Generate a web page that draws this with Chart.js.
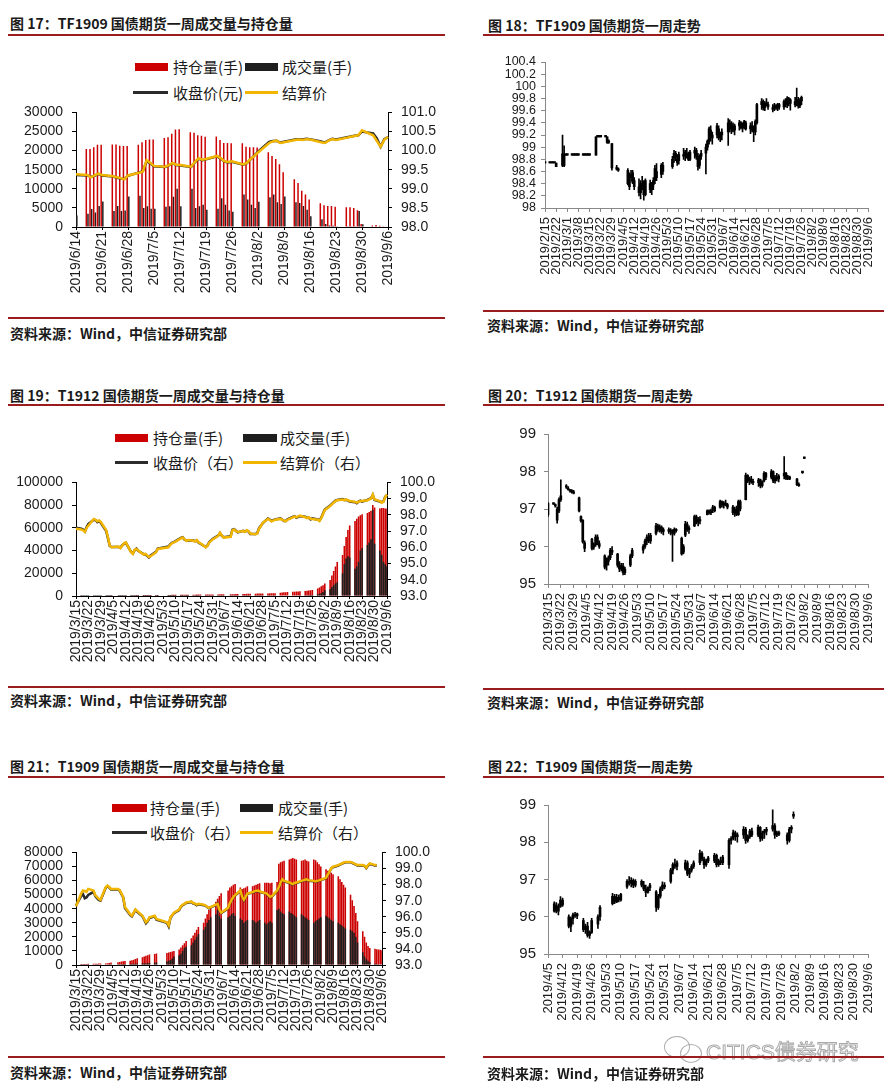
<!DOCTYPE html>
<html>
<head>
<meta charset="utf-8">
<script src="https://cdn.jsdelivr.net/npm/chart.js@4.4.0/dist/chart.umd.min.js"></script>
<style>
body{margin:0;background:#fff;width:889px;height:1088px;position:relative;overflow:hidden;font-family:"Noto Sans CJK SC","Liberation Sans",sans-serif;color:#1a1a1a;}
.t{position:absolute;white-space:nowrap;line-height:20px;height:20px;}
.title{font-size:14px;font-weight:bold;}
.src{font-size:14px;font-weight:bold;}
.lg{font-size:15px;}
.rule{position:absolute;height:2px;background:#9b1b1f;}
.sw{position:absolute;}
canvas{position:absolute;}
.wm{position:absolute;left:706px;top:1035px;font-size:21px;font-family:"Liberation Sans","Noto Sans CJK SC",sans-serif;color:rgba(255,255,255,0.6);-webkit-text-stroke:1px rgba(140,140,140,0.75);white-space:nowrap;}
.bub{position:absolute;border:1.5px solid rgba(140,140,140,0.7);border-radius:50%;}
</style>
</head>
<body>

<!-- row 1 -->
<div class="t title" style="left:10px;top:13px">图 17：TF1909 国债期货一周成交量与持仓量</div>
<div class="t title" style="left:488px;top:15px">图 18：TF1909 国债期货一周走势</div>
<div class="rule" style="left:8px;top:34px;width:437px"></div>
<div class="rule" style="left:483px;top:34px;width:401px"></div>

<div class="sw" style="left:135px;top:63px;width:33px;height:8px;background:#cc0000"></div>
<div class="t lg" style="left:173px;top:57px">持仓量(手)</div>
<div class="sw" style="left:245px;top:63px;width:33px;height:8px;background:#1e1e1e"></div>
<div class="t lg" style="left:282px;top:57px">成交量(手)</div>
<div class="sw" style="left:133px;top:91px;width:35px;height:3px;background:#2b2b2b"></div>
<div class="t lg" style="left:173px;top:83px">收盘价(元)</div>
<div class="sw" style="left:245px;top:91px;width:33px;height:3px;background:#f2b600"></div>
<div class="t lg" style="left:282px;top:83px">结算价</div>

<canvas id="c17" width="445" height="215" style="left:0;top:95px"></canvas>
<canvas id="c18" width="444" height="255" style="left:445px;top:45px"></canvas>

<div class="rule" style="left:8px;top:317px;width:437px"></div>
<div class="rule" style="left:483px;top:310px;width:401px"></div>
<div class="t src" style="left:10px;top:323px">资料来源：Wind，中信证券研究部</div>
<div class="t src" style="left:487px;top:315px">资料来源：Wind，中信证券研究部</div>

<!-- row 2 -->
<div class="t title" style="left:10px;top:385px">图 19：T1912 国债期货一周成交量与持仓量</div>
<div class="t title" style="left:488px;top:385px">图 20：T1912 国债期货一周走势</div>
<div class="rule" style="left:8px;top:404px;width:437px"></div>
<div class="rule" style="left:483px;top:404px;width:401px"></div>

<div class="sw" style="left:115px;top:434px;width:33px;height:8px;background:#cc0000"></div>
<div class="t lg" style="left:153px;top:428px">持仓量(手)</div>
<div class="sw" style="left:243px;top:434px;width:34px;height:8px;background:#1e1e1e"></div>
<div class="t lg" style="left:280px;top:428px">成交量(手)</div>
<div class="sw" style="left:115px;top:461px;width:33px;height:3px;background:#2b2b2b"></div>
<div class="t lg" style="left:153px;top:453px">收盘价（右）</div>
<div class="sw" style="left:243px;top:461px;width:34px;height:3px;background:#f2b600"></div>
<div class="t lg" style="left:280px;top:453px">结算价（右）</div>

<canvas id="c19" width="445" height="215" style="left:0;top:465px"></canvas>
<canvas id="c20" width="444" height="265" style="left:445px;top:415px"></canvas>

<div class="rule" style="left:8px;top:686px;width:437px"></div>
<div class="rule" style="left:483px;top:688px;width:401px"></div>
<div class="t src" style="left:10px;top:690px">资料来源：Wind，中信证券研究部</div>
<div class="t src" style="left:487px;top:692px">资料来源：Wind，中信证券研究部</div>

<!-- row 3 -->
<div class="t title" style="left:10px;top:756px">图 21：T1909 国债期货一周成交量与持仓量</div>
<div class="t title" style="left:488px;top:756px">图 22：T1909 国债期货一周走势</div>
<div class="rule" style="left:8px;top:776px;width:437px"></div>
<div class="rule" style="left:483px;top:776px;width:401px"></div>

<div class="sw" style="left:112px;top:804px;width:35px;height:8px;background:#cc0000"></div>
<div class="t lg" style="left:150px;top:798px">持仓量(手)</div>
<div class="sw" style="left:240px;top:804px;width:33px;height:8px;background:#1e1e1e"></div>
<div class="t lg" style="left:278px;top:798px">成交量(手)</div>
<div class="sw" style="left:112px;top:831px;width:35px;height:3px;background:#2b2b2b"></div>
<div class="t lg" style="left:150px;top:823px">收盘价（右）</div>
<div class="sw" style="left:240px;top:831px;width:33px;height:3px;background:#f2b600"></div>
<div class="t lg" style="left:278px;top:823px">结算价（右）</div>

<canvas id="c21" width="445" height="215" style="left:0;top:835px"></canvas>
<canvas id="c22" width="444" height="265" style="left:445px;top:785px"></canvas>

<div class="bub" style="left:664px;top:1036px;width:24px;height:20px"></div>
<div class="bub" style="left:680px;top:1044px;width:20px;height:17px"></div>
<div class="wm">CITICS债券研究</div>

<div class="rule" style="left:8px;top:1056px;width:437px"></div>
<div class="rule" style="left:483px;top:1056px;width:401px"></div>
<div class="t src" style="left:10px;top:1062px">资料来源：Wind，中信证券研究部</div>
<div class="t src" style="left:487px;top:1063px">资料来源：Wind，中信证券研究部</div>

<script>
// ---------- data (one row = one week, Mon..Fri; null = no trading) ----------

// 图17 TF1909 成交量/持仓量, weeks from Monday 2019/6/10
const tf1909Monday17 = '2019/6/10';
const tf1909OI = [
  [null,null,null,null,20000],
  [20400,20400,20900,21500,21500],
  [21600,21600,21300,21200,21200],
  [21500,22200,22800,22900,22900],
  [23300,23500,24400,25500,25600],
  [24800,24700,24000,23900,23600],
  [23700,22800,22000,22000,21900],
  [21900,21000,20900,20900,20800],
  [19600,18600,17800,16400,14300],
  [12500,11500,9500,8500,7200],
  [6200,5700,5500,5500,5300],
  [5200,5200,5000,4400,800],
  [400,500,300,200,100]
];
const tf1909Vol = [
  [null,null,null,null,3000],
  [3500,4700,3800,5500,6700],
  [4200,5500,4200,4300,8000],
  [8200,5000,5400,4800,4800],
  [5300,5400,7900,10000,5400],
  [10000,5000,5400,5800,4500],
  [4800,7500,5800,4300,4000],
  [8500,7200,5800,5000,6600],
  [7800,8500,6500,6000,8000],
  [6500,6300,5500,4500,2800],
  [2000,800,400,300,200],
  [200,200,200,4200,700],
  [100,100,100,100,100]
];
const tf1909Close = [
  [null,null,null,null,99.36],
  [99.35,99.31,99.34,99.39,99.35],
  [99.32,99.29,99.27,99.26,99.34],
  [99.43,99.46,99.72,99.67,99.59],
  [99.57,99.61,99.67,99.62,99.61],
  [99.57,99.69,99.79,99.75,99.77],
  [99.85,99.79,99.71,99.69,99.71],
  [99.63,99.67,99.77,99.87,99.97],
  [100.23,100.25,100.26,100.21,100.23],
  [100.29,100.30,100.29,100.31,100.30],
  [100.24,100.21,100.27,100.31,100.29],
  [100.35,100.37,100.39,100.40,100.50],
  [100.45,100.32,100.10,100.30,100.35]
];
const tf1909Settle = [
  [null,null,null,null,99.38],
  [99.36,99.30,99.35,99.40,99.36],
  [99.33,99.30,99.28,99.25,99.35],
  [99.42,99.45,99.75,99.68,99.60],
  [99.58,99.62,99.68,99.63,99.62],
  [99.58,99.70,99.80,99.76,99.78],
  [99.86,99.80,99.72,99.70,99.72],
  [99.64,99.68,99.78,99.86,99.95],
  [100.20,100.24,100.26,100.20,100.22],
  [100.28,100.29,100.28,100.30,100.29],
  [100.22,100.20,100.26,100.30,100.28],
  [100.34,100.36,100.38,100.40,100.53],
  [100.40,100.25,100.10,100.28,100.36]
];

// 图18 TF1909 日K线 [open, high, low, close], weeks from Monday 2019/2/11
const tf1909Monday18 = '2019/2/11';
const F74 = [98.74,98.74,98.74,98.74], F87 = [98.87,98.87,98.87,98.87], F917 = [99.17,99.17,99.17,99.17];
const tf1909Candles = [
  [null,null,null,null,F74],
  [F74,F74,F74,F74,[98.74,98.74,98.68,98.68]],
  [null,[98.70,99.20,98.68,98.89],[98.70,99.02,98.68,98.88],F87,F87],
  [F87,F87,F87,F87,F87],
  [F87,F87,F87,F87,F87],
  [null,[98.87,99.17,98.87,99.17],F917,F917,F917],
  [F917,[99.17,99.17,99.06,99.08],[99.08,99.12,99.06,99.10],null,[99.06,99.06,98.62,98.66]],
  [[98.66,98.70,98.62,98.64],[98.64,98.66,98.60,98.62],null,null,null],
  [[98.62,98.65,98.38,98.40],[98.45,98.58,98.30,98.35],[98.55,98.62,98.45,98.50],[98.58,98.62,98.40,98.42],[98.45,98.50,98.30,98.35]],
  [[98.35,98.48,98.20,98.25],[98.25,98.45,98.15,98.40],[98.40,98.52,98.30,98.32],[98.30,98.45,98.13,98.22],[98.22,98.48,98.20,98.45]],
  [[98.40,98.46,98.25,98.30],[98.30,98.42,98.22,98.38],[98.38,98.50,98.30,98.45],[98.45,98.70,98.40,98.65],[98.60,98.73,98.45,98.50]],
  [[98.55,98.73,98.50,98.70],[98.70,98.75,98.55,98.60],null,null,null],
  [[98.68,98.85,98.65,98.80],[98.82,98.95,98.75,98.90],[98.90,98.93,98.78,98.82],[98.80,98.88,98.70,98.75],[98.78,98.92,98.72,98.88]],
  [[98.88,98.98,98.80,98.85],[98.85,98.95,98.78,98.92],[98.90,98.98,98.82,98.85],[98.85,98.92,98.78,98.80],[98.80,98.95,98.78,98.92]],
  [[98.90,99.00,98.82,98.95],[98.95,98.98,98.80,98.85],[98.85,98.90,98.62,98.68],[98.70,98.88,98.65,98.85],[98.85,98.95,98.80,98.90]],
  [[98.90,99.05,98.56,99.00],[99.00,99.12,98.95,99.10],[99.10,99.33,99.05,99.30],[99.28,99.35,99.10,99.15],[99.15,99.25,99.05,99.20]],
  [[99.20,99.39,99.15,99.35],[99.30,99.35,99.12,99.15],[99.15,99.25,99.09,99.20],[99.20,99.30,99.12,99.25],null],
  [[99.25,99.47,99.03,99.40],[99.40,99.45,99.25,99.30],[99.30,99.42,99.22,99.38],[99.35,99.40,99.25,99.28],[99.28,99.38,99.20,99.35]],
  [[99.35,99.44,99.28,99.40],[99.40,99.42,99.30,99.32],[99.32,99.40,99.25,99.36],[99.36,99.44,99.30,99.42],[99.40,99.43,99.28,99.30]],
  [[99.30,99.40,99.22,99.35],[99.35,99.42,99.25,99.28],[99.28,99.35,99.09,99.25],[99.25,99.45,99.20,99.42],[99.40,99.72,99.38,99.70]],
  [[99.70,99.80,99.62,99.75],[99.75,99.78,99.61,99.65],[99.65,99.75,99.60,99.72],[99.72,99.80,99.68,99.70],[99.70,99.74,99.62,99.66]],
  [[99.62,99.70,99.58,99.65],[99.65,99.72,99.60,99.68],[99.68,99.70,99.62,99.64],[99.64,99.72,99.60,99.70],[99.70,99.72,99.62,99.66]],
  [[99.66,99.78,99.62,99.75],[99.75,99.80,99.66,99.70],[99.70,99.83,99.65,99.80],[99.80,99.82,99.68,99.72],[99.72,99.80,99.61,99.78]],
  [[99.75,99.82,99.66,99.70],[99.70,99.97,99.68,99.78],[99.78,99.82,99.64,99.68],[99.68,99.80,99.65,99.76],[99.76,99.84,99.70,99.82]]
];

// 图19 T1912 成交量/持仓量, weeks from Monday 2019/3/11
const t1912Monday = '2019/3/11';
const t1912OI = [
  [null,null,null,null,300],
  [320,340,350,380,400],
  [420,450,470,500,520],
  [540,560,580,600,null],
  [620,640,660,680,700],
  [720,740,760,780,800],
  [820,840,860,880,900],
  [920,940,null,null,null],
  [960,980,1000,1020,1040],
  [1060,1080,1100,1120,1150],
  [1180,1200,1220,1250,1280],
  [1300,1320,1350,1380,1400],
  [1420,1450,1480,1500,null],
  [1550,1600,1650,1700,1750],
  [1800,1850,1900,1950,2000],
  [2050,2100,2150,2200,2250],
  [2300,2350,2400,2450,2500],
  [2900,3100,3300,3400,3500],
  [3700,3800,3900,4000,4200],
  [4400,4600,4800,5000,5200],
  [6500,7500,8500,9500,11000],
  [14000,18000,22000,26000,30000],
  [36000,44000,52000,58000,62000],
  [66000,68000,70000,71000,72000],
  [73000,74000,75000,80000,78000],
  [77000,77500,77500,77000,77000]
];
const t1912Vol = [
  [null,null,null,null,30],
  [30,40,30,40,50],
  [40,50,60,50,40],
  [50,60,50,60,null],
  [60,70,60,50,60],
  [70,60,80,70,60],
  [80,70,90,80,70],
  [90,80,null,null,null],
  [90,100,80,90,100],
  [100,110,120,100,110],
  [120,130,110,120,140],
  [130,150,140,160,150],
  [160,170,150,180,null],
  [180,200,190,210,220],
  [200,230,240,220,250],
  [260,240,280,270,300],
  [300,320,350,300,280],
  [500,450,400,380,420],
  [450,500,480,520,600],
  [650,700,720,800,900],
  [1500,2000,2500,3500,5000],
  [6000,8000,9500,11000,12000],
  [20000,28000,33000,35000,34000],
  [24000,26000,30000,40000,42000],
  [45000,47000,50000,76000,46000],
  [40000,36000,30000,28000,26000]
];
const t1912Close = [
  [null,null,null,null,97.20],
  [97.15,97.10,96.98,97.25,97.45],
  [97.70,97.68,97.55,97.62,97.50],
  [97.00,96.55,96.08,96.02,null],
  [96.02,95.98,96.12,96.22,96.28],
  [95.72,95.62,95.82,95.92,95.78],
  [95.58,95.55,95.48,95.38,95.50],
  [95.72,95.92,null,null,null],
  [96.05,96.18,96.28,96.32,96.38],
  [96.58,96.62,96.48,96.42,96.42],
  [96.42,96.38,96.42,96.28,96.22],
  [96.02,96.12,96.32,96.42,96.52],
  [96.72,96.88,96.72,96.62,null],
  [96.68,97.08,97.12,97.02,96.92],
  [97.02,96.98,97.02,96.98,96.82],
  [96.82,96.88,97.18,97.32,97.48],
  [97.78,97.72,97.62,97.68,97.72],
  [97.78,97.72,97.62,97.62,97.72],
  [97.88,97.92,97.82,97.88,97.92],
  [97.88,97.82,97.82,97.72,97.78],
  [97.72,97.65,97.82,98.08,98.32],
  [98.58,98.68,98.78,98.88,98.92],
  [98.98,98.92,98.92,98.88,98.82],
  [98.78,98.72,98.82,98.88,98.82],
  [98.92,98.98,99.02,99.22,98.92],
  [98.82,98.78,98.82,99.12,99.22]
];
const t1912Settle = [
  [null,null,null,null,97.15],
  [97.10,97.05,96.95,97.20,97.35],
  [97.75,97.70,97.60,97.65,97.55],
  [97.05,96.60,96.10,96.00,null],
  [96.05,95.95,96.10,96.25,96.30],
  [95.70,95.60,95.85,95.90,95.80],
  [95.55,95.60,95.50,95.40,95.45],
  [95.70,95.90,null,null,null],
  [96.00,96.15,96.25,96.30,96.35],
  [96.55,96.60,96.50,96.40,96.45],
  [96.40,96.35,96.45,96.30,96.25],
  [96.00,96.10,96.30,96.40,96.50],
  [96.70,96.90,96.75,96.60,null],
  [96.65,97.05,97.10,97.00,96.95],
  [97.00,96.95,97.05,97.00,96.85],
  [96.80,96.85,97.15,97.30,97.50],
  [97.75,97.70,97.60,97.65,97.70],
  [97.75,97.70,97.65,97.60,97.70],
  [97.85,97.90,97.85,97.90,97.95],
  [97.85,97.80,97.85,97.75,97.75],
  [97.70,97.62,97.80,98.05,98.30],
  [98.55,98.65,98.75,98.85,98.90],
  [98.95,98.90,98.95,98.90,98.85],
  [98.80,98.75,98.80,98.85,98.85],
  [98.90,98.95,99.00,99.25,98.95],
  [98.85,98.75,98.80,99.10,99.25]
];

// 图20 T1912 日K线, weeks from Monday 2019/3/11
const t1912Candles = [
  [null,null,null,null,[97.15,97.17,96.80,96.85]],
  [[97.13,97.15,97.12,97.14],[97.10,97.14,97.05,97.08],[97.00,97.05,96.62,96.70],[96.95,97.30,96.90,97.25],[97.25,97.78,97.20,97.35]],
  [[97.62,97.65,97.55,97.58],[97.55,97.60,97.50,97.52],[97.50,97.52,97.45,97.48],[97.48,97.52,97.42,97.45],[97.45,97.50,97.40,97.42]],
  [[97.30,97.32,96.92,96.95],[96.80,96.82,96.65,96.68],[96.70,96.72,96.09,96.12],[96.10,96.15,95.86,95.95],null],
  [[96.20,96.22,95.91,95.95],[95.98,96.10,95.92,96.05],[96.05,96.31,96.00,96.25],[96.25,96.31,96.04,96.08],[96.08,96.15,95.95,96.00]],
  [[95.75,95.78,95.40,95.45],[95.50,95.70,95.37,95.60],[95.60,95.75,95.50,95.70],[95.70,95.95,95.65,95.90],[95.90,96.00,95.78,95.85]],
  [[95.80,95.82,95.45,95.50],[95.50,95.60,95.33,95.40],[95.40,95.55,95.35,95.48],[95.48,95.55,95.24,95.30],[95.30,95.45,95.25,95.40]],
  [[95.50,95.80,95.46,95.75],[95.75,95.95,95.70,95.90],null,null,null],
  [[95.90,96.05,95.82,96.00],[96.00,96.20,95.95,96.15],[96.15,96.31,96.05,96.25],[96.25,96.35,96.10,96.15],[96.15,96.35,96.08,96.30]],
  [[96.35,96.62,96.31,96.55],[96.55,96.60,96.40,96.45],[96.45,96.58,96.38,96.52],[96.52,96.55,96.35,96.40],[96.40,96.50,96.31,96.45]],
  [[96.45,96.50,96.35,96.40],[96.40,96.48,96.31,96.42],[96.42,96.45,95.60,96.35],[96.35,96.50,96.30,96.45],[96.45,96.48,96.38,96.42]],
  [[96.22,96.25,95.77,95.80],[95.85,96.05,95.80,96.00],[96.30,96.67,96.26,96.60],[96.60,96.65,96.40,96.45],[96.45,96.55,96.35,96.50]],
  [[96.55,96.84,96.53,96.80],[96.80,96.84,96.60,96.65],[96.65,96.78,96.55,96.72],[96.72,96.80,96.60,96.68],null],
  [[96.85,96.98,96.84,96.95],[96.95,96.98,96.86,96.90],[96.90,97.00,96.85,96.96],[97.00,97.10,96.90,97.05],[97.05,97.08,96.92,96.95]],
  [[97.05,97.24,97.02,97.20],[97.20,97.22,97.05,97.10],[97.10,97.20,97.02,97.15],[97.15,97.24,97.08,97.12],[97.12,97.15,97.00,97.05]],
  [[97.05,97.10,96.85,96.90],[96.90,97.05,96.80,97.00],[97.00,97.08,96.82,96.85],[96.85,97.24,96.83,97.20],[97.20,97.24,96.95,97.00]],
  [[97.25,97.96,97.24,97.90],[97.90,97.92,97.70,97.75],[97.75,97.85,97.65,97.80],[97.80,97.87,97.68,97.72],[97.72,97.80,97.65,97.70]],
  [[97.70,97.82,97.60,97.78],[97.78,97.80,97.56,97.62],[97.62,97.75,97.58,97.72],[97.75,98.00,97.72,97.95],[97.95,97.98,97.78,97.85]],
  [[97.85,98.05,97.80,98.00],[98.00,98.02,97.70,97.75],[97.75,97.90,97.69,97.85],[97.85,97.95,97.75,97.80],[97.80,97.92,97.72,97.88]],
  [[97.88,98.40,97.80,97.95],[97.95,97.98,97.78,97.82],[97.82,97.90,97.78,97.85],[97.85,97.88,97.78,97.80],null],
  [[97.80,97.82,97.62,97.65],[97.65,97.70,97.60,97.62],null,[97.98,98.00,97.95,97.97],[98.35,98.36,98.34,98.35]]
];

// 图21 T1909 成交量/持仓量, weeks from Monday 2019/3/11
const t1909Monday = '2019/3/11';
const t1909OI = [
  [null,null,null,null,600],
  [650,700,720,750,800],
  [850,900,950,1000,1050],
  [1100,1300,1500,1700,null],
  [2000,2200,2400,2600,2800],
  [3000,3400,3800,4300,4800],
  [5500,6000,6500,7000,7400],
  [7800,8200,null,null,null],
  [8500,8800,9200,9600,10000],
  [11000,12500,14000,15500,17000],
  [19000,21000,23000,25000,27000],
  [30000,33000,36000,39000,41000],
  [45000,47000,49000,51000,null],
  [53000,55000,56000,57000,57500],
  [55000,54000,54500,55000,56000],
  [56000,56500,57000,57500,58000],
  [58500,58500,58500,58000,58500],
  [59000,72000,73000,73500,74000],
  [75000,75500,76000,75500,75000],
  [74000,74500,75000,74000,73500],
  [75000,74500,73000,71500,70000],
  [68000,67000,66500,65500,64500],
  [63000,61000,59000,57000,55000],
  [50000,46000,42000,37000,31000],
  [24000,20000,16000,13500,12000],
  [11500,11200,11000,10800,10500]
];
const t1909Vol = [
  [null,null,null,null,150],
  [180,200,220,250,260],
  [280,300,250,300,320],
  [350,400,450,500,null],
  [500,600,550,650,700],
  [700,800,750,900,1000],
  [1000,1200,1100,1300,1500],
  [1600,1800,null,null,null],
  [2500,3000,3500,4500,6000],
  [7000,8000,10000,12000,13000],
  [14000,16000,18000,20000,22000],
  [25000,27000,30000,32000,34000],
  [36000,39000,35000,33000,null],
  [34000,35000,36000,37000,35000],
  [33000,32000,30000,31000,32000],
  [32000,31000,30000,31000,32000],
  [30000,29000,30000,31000,30000],
  [39000,40000,38000,37000,36000],
  [38000,37000,36000,35000,34000],
  [36000,35000,34000,33000,32000],
  [30000,31000,32000,33000,34000],
  [35000,34000,33000,32000,31000],
  [30000,29000,28000,27000,26000],
  [25000,24000,23000,20000,16000],
  [9000,6000,4000,3000,2000],
  [800,600,500,400,300]
];
const t1909Close = [
  [null,null,null,null,96.70],
  [97.30,97.40,97.15,97.20,97.35],
  [97.55,97.30,97.15,97.05,97.00],
  [97.80,97.90,97.82,97.70,null],
  [97.70,97.62,97.40,97.20,96.55],
  [96.10,96.02,96.22,96.42,96.30],
  [96.02,95.82,95.60,95.72,95.92],
  [96.02,95.82,null,null,null],
  [95.62,95.40,95.92,96.08,96.22],
  [96.42,96.62,96.72,96.78,96.86],
  [96.92,96.82,96.80,96.72,96.78],
  [96.72,96.68,96.60,96.52,96.58],
  [96.72,96.82,96.42,96.22,null],
  [96.52,96.82,97.02,97.22,97.32],
  [97.60,97.22,97.02,97.22,97.42],
  [97.50,97.55,97.60,97.60,97.55],
  [97.45,97.42,97.32,97.22,97.25],
  [97.60,97.80,98.10,98.30,98.20],
  [98.10,98.05,98.00,98.08,98.10],
  [98.20,98.24,98.28,98.30,98.24],
  [98.20,98.18,98.20,98.24,98.28],
  [98.40,98.60,98.80,99.00,99.08],
  [99.18,99.24,99.28,99.34,99.38],
  [99.38,99.35,99.28,99.24,99.18],
  [99.18,99.15,99.02,99.18,99.28],
  [99.18,99.18,null,null,null]
];
const t1909Settle = [
  [null,null,null,null,96.65],
  [97.45,97.63,97.60,97.55,97.73],
  [97.63,97.35,97.24,97.12,97.05],
  [97.83,97.93,97.85,97.73,null],
  [97.73,97.65,97.44,97.24,96.60],
  [96.15,96.06,96.25,96.45,96.35],
  [96.06,95.86,95.66,95.76,95.96],
  [96.06,95.86,null,null,null],
  [95.66,95.47,95.96,96.10,96.25],
  [96.45,96.65,96.75,96.80,96.89],
  [96.94,96.85,96.82,96.75,96.80],
  [96.75,96.70,96.62,96.55,96.60],
  [96.75,96.80,96.45,96.25,null],
  [96.55,96.85,97.05,97.24,97.34],
  [97.63,97.24,97.05,97.24,97.44],
  [97.53,97.58,97.62,97.63,97.58],
  [97.48,97.44,97.34,97.24,97.28],
  [97.63,97.83,98.13,98.33,98.23],
  [98.13,98.08,98.03,98.10,98.13],
  [98.23,98.26,98.30,98.33,98.26],
  [98.23,98.20,98.23,98.26,98.30],
  [98.42,98.62,98.82,99.02,99.11],
  [99.21,99.26,99.31,99.36,99.41],
  [99.41,99.37,99.31,99.26,99.21],
  [99.21,99.17,99.05,99.21,99.31],
  [99.21,99.21,null,null,null]
];

// 图22 T1909 日K线, weeks from Monday 2019/4/8
const t1909Monday22 = '2019/4/8';
const t1909Candles = [
  [[96.35,96.40,96.12,96.15],[96.30,96.38,96.10,96.15],[96.15,96.35,96.05,96.28],[96.28,96.54,96.25,96.45],[96.45,96.50,96.28,96.32]],
  [[96.00,96.05,95.70,95.75],[95.75,96.00,95.60,95.95],[95.95,96.10,95.80,96.05],[96.05,96.12,95.98,96.02],[96.02,96.10,95.95,96.08]],
  [[95.90,95.96,95.60,95.65],[95.65,95.80,95.55,95.75],[95.75,95.85,95.45,95.50],[95.50,95.62,95.42,95.58],[95.58,95.96,95.55,95.90]],
  [[95.80,96.05,95.69,96.00],[96.00,96.30,95.90,96.25],null,null,null],
  [[96.35,96.63,96.32,96.55],[96.55,96.60,96.35,96.40],[96.40,96.60,96.38,96.52],[96.52,96.58,96.40,96.45],[96.45,96.63,96.42,96.60]],
  [[96.80,97.00,96.76,96.95],[96.95,97.08,96.85,96.90],[96.90,97.05,96.80,96.98],[96.98,97.02,96.78,96.85],[96.85,97.00,96.80,96.95]],
  [[96.95,96.99,96.80,96.85],[96.85,96.95,96.70,96.75],[96.75,96.85,96.54,96.65],[96.65,96.80,96.63,96.78],[96.78,96.90,96.70,96.85]],
  [[96.67,96.70,96.14,96.25],[96.25,96.60,96.20,96.55],[96.55,96.80,96.50,96.75],[96.75,96.94,96.70,96.85],[96.85,96.92,96.75,96.80]],
  [[96.95,97.30,96.90,97.25],[97.25,97.45,97.15,97.40],[97.40,97.55,97.30,97.35],[97.35,97.50,97.26,97.45],null],
  [[97.30,97.52,97.25,97.45],[97.45,97.50,97.10,97.15],[97.15,97.30,97.05,97.25],[97.25,97.40,97.20,97.35],[97.35,97.50,97.30,97.45]],
  [[97.45,97.79,97.40,97.70],[97.70,97.75,97.50,97.55],[97.55,97.60,97.30,97.40],[97.40,97.55,97.35,97.50],[97.50,97.62,97.45,97.58]],
  [[97.50,97.70,97.45,97.65],[97.65,97.68,97.34,97.40],[97.40,97.55,97.35,97.50],[97.50,97.60,97.40,97.45],[97.45,97.65,97.40,97.60]],
  [[97.40,98.10,97.30,98.05],[98.05,98.15,97.95,98.10],[98.10,98.33,98.06,98.25],[98.25,98.30,98.05,98.15],[98.15,98.25,98.00,98.20]],
  [[98.20,98.42,98.10,98.35],[98.35,98.40,97.97,98.05],[98.05,98.20,98.00,98.15],[98.15,98.35,98.10,98.30],[98.30,98.38,98.15,98.20]],
  [[98.20,98.46,98.15,98.40],[98.40,98.42,98.02,98.10],[98.10,98.30,98.05,98.25],[98.25,98.35,98.10,98.30],[98.30,98.40,98.20,98.35]],
  [[98.35,98.87,98.30,98.45],[98.45,98.50,98.10,98.20],[98.20,98.30,98.15,98.25],[98.25,98.30,98.18,98.22],null],
  [[98.20,98.25,97.95,98.05],[98.05,98.40,98.00,98.35],[98.35,98.45,98.25,98.40],[98.70,98.82,98.64,98.75],null]
];

// ---------- helpers ----------
const DAY = 864e5;
const NUM_FONT = "'Liberation Sans', Arial, sans-serif";
const RED = '#cc0000', BLACK = '#1e1e1e', YELLOW = '#f2b600';

function parseD(s){ const p = s.split('/').map(Number); return Date.UTC(p[0], p[1]-1, p[2]); }
function fmtD(t){ const d = new Date(t); return d.getUTCFullYear() + '/' + (d.getUTCMonth()+1) + '/' + d.getUTCDate(); }
function calendar(a, b){ const out = []; for (let t = parseD(a); t <= parseD(b); t += DAY) out.push(fmtD(t)); return out; }
// put weekly rows onto the calendar-day axis
function place(days, monday, weeks){
  const out = days.map(() => null), m = parseD(monday);
  weeks.forEach((wk, w) => wk.forEach((v, i) => {
    if (v == null) return;
    const k = days.indexOf(fmtD(m + (w*7 + i)*DAY));
    if (k >= 0) out[k] = v;
  }));
  return out;
}

function xAxis(days, o){
  return {
    type: 'category', offset: false,
    afterFit: s => { s.height = o.h; },
    grid: { display: true, drawOnChartArea: false, offset: false, tickLength: o.tl,
            color: c => (c.index % 7 === 0 ? o.color : 'rgba(0,0,0,0)') },
    border: { color: o.color },
    ticks: { autoSkip: false, maxRotation: 90, minRotation: 90, padding: o.pad, color: '#1a1a1a',
             font: { family: NUM_FONT, size: o.fs },
             callback: (v, i) => (i % 7 === 0 ? days[i] : '') }
  };
}

function volChart(id, c){
  const days = calendar(c.from, c.to);
  new Chart(document.getElementById(id), {
    data: { labels: days, datasets: [
      { type: 'bar', label: '持仓量(手)', data: place(days, c.monday, c.oi), backgroundColor: RED, borderWidth: 0,
        yAxisID: 'y', order: c.grouped ? 2 : 3, grouped: c.grouped, barPercentage: c.bp, categoryPercentage: c.cp },
      { type: 'bar', label: '成交量(手)', data: place(days, c.monday, c.vol), backgroundColor: BLACK, borderWidth: 0,
        yAxisID: 'y', order: c.grouped ? 3 : 2, grouped: c.grouped, barPercentage: c.bp, categoryPercentage: c.cp },
      { type: 'line', label: '收盘价', data: place(days, c.monday, c.close), borderColor: '#2b2b2b', borderWidth: 2.5,
        pointRadius: 0, spanGaps: true, yAxisID: 'y1', order: 1 },
      { type: 'line', label: '结算价', data: place(days, c.monday, c.settle), borderColor: YELLOW, borderWidth: 2.5,
        pointRadius: 0, spanGaps: true, yAxisID: 'y1', order: 0 }
    ]},
    options: {
      responsive: false, animation: false,
      layout: { padding: { top: c.top, left: 0, right: 0, bottom: 0 } },
      plugins: { legend: { display: false }, tooltip: { enabled: false } },
      scales: {
        x: xAxis(days, { h: c.xh, tl: 3, pad: 1, fs: 14, color: '#000' }),
        y: { position: 'left', min: 0, max: c.yMax, afterFit: s => { s.width = 76; },
             grid: { drawOnChartArea: false, tickLength: 4, color: '#000' }, border: { color: '#000' },
             ticks: { stepSize: c.yStep, autoSkip: false, padding: 9, color: '#1a1a1a', font: { family: NUM_FONT, size: 14 },
                      callback: v => String(Math.round(v)) } },
        y1: { position: 'right', min: c.rMin, max: c.rMax, afterFit: s => { s.width = c.rw; },
              grid: { drawOnChartArea: false, tickLength: 4, color: '#000' }, border: { color: '#000' },
              ticks: { stepSize: c.rStep, autoSkip: false, padding: 9, color: '#1a1a1a', font: { family: NUM_FONT, size: 14 },
                       callback: v => v.toFixed(1) } }
      }
    }
  });
}

function candleChart(id, c){
  const days = calendar(c.from, c.to);
  const k = place(days, c.monday, c.candles);
  new Chart(document.getElementById(id), {
    type: 'bar',
    data: { labels: days, datasets: [
      { label: 'wick', data: k.map(v => (v ? [v[2], v[1]] : null)), backgroundColor: '#000', borderWidth: 0,
        barThickness: 1, grouped: false, order: 1 },
      { label: 'body', data: k.map(v => (v ? [v[0], v[3]] : null)), backgroundColor: '#000', borderWidth: 0,
        barThickness: 2, minBarLength: 1.5, grouped: false, order: 0 }
    ]},
    options: {
      responsive: false, animation: false,
      layout: { padding: { top: c.top, left: 0, right: c.right, bottom: 0 } },
      plugins: { legend: { display: false }, tooltip: { enabled: false } },
      scales: {
        x: xAxis(days, { h: c.xh, tl: 4, pad: c.xpad, fs: 13, color: '#888' }),
        y: { min: c.yMin, max: c.yMax, afterFit: s => { s.width = c.yw; },
             grid: { drawOnChartArea: false, tickLength: 4, color: '#888' }, border: { color: '#888' },
             ticks: { stepSize: c.yStep, autoSkip: false, padding: c.ypad, color: '#1a1a1a',
                      font: { family: NUM_FONT, size: c.yfs, lineHeight: 1 },
                      callback: v => String(+v.toFixed(1)) } }
      }
    }
  });
}

// ---------- charts ----------
volChart('c17', { from: '2019/6/14', to: '2019/9/6', monday: tf1909Monday17,
  oi: tf1909OI, vol: tf1909Vol, close: tf1909Close, settle: tf1909Settle,
  grouped: true, bp: 0.9, cp: 0.9, top: 10, xh: 83,
  yMax: 30000, yStep: 5000, rMin: 98, rMax: 101, rStep: 0.5, rw: 57 });

candleChart('c18', { from: '2019/2/15', to: '2019/9/6', monday: tf1909Monday18, candles: tf1909Candles,
  top: 17, right: 17, xh: 92, xpad: 5, yw: 100, ypad: 5, yfs: 12.5,
  yMin: 98, yMax: 100.4, yStep: 0.2 });

volChart('c19', { from: '2019/3/15', to: '2019/9/6', monday: t1912Monday,
  oi: t1912OI, vol: t1912Vol, close: t1912Close, settle: t1912Settle,
  grouped: false, bp: 0.9, cp: 1, top: 12, xh: 84,
  yMax: 100000, yStep: 20000, rMin: 93, rMax: 100, rStep: 1, rw: 58 });

candleChart('c20', { from: '2019/3/15', to: '2019/9/6', monday: t1912Monday, candles: t1912Candles,
  top: 19, right: 11, xh: 96, xpad: 5, yw: 103, ypad: 8, yfs: 15,
  yMin: 95, yMax: 99, yStep: 1 });

volChart('c21', { from: '2019/3/15', to: '2019/9/6', monday: t1909Monday,
  oi: t1909OI, vol: t1909Vol, close: t1909Close, settle: t1909Settle,
  grouped: false, bp: 0.9, cp: 1, top: 12, xh: 85,
  yMax: 80000, yStep: 10000, rMin: 93, rMax: 100, rStep: 1, rw: 63 });

candleChart('c22', { from: '2019/4/5', to: '2019/9/6', monday: t1909Monday22, candles: t1909Candles,
  top: 20, right: 11, xh: 96, xpad: 5, yw: 103, ypad: 8, yfs: 15,
  yMin: 95, yMax: 99, yStep: 1 });
</script>
</body>
</html>
